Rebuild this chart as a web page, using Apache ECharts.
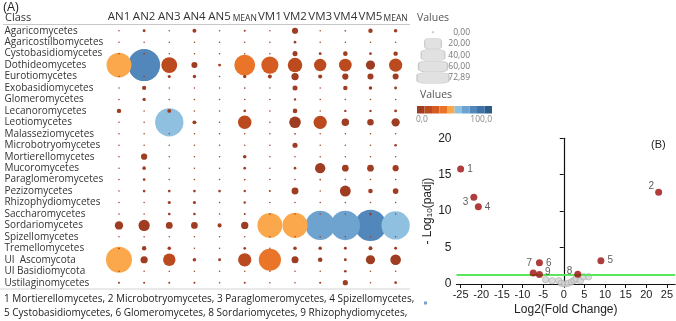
<!DOCTYPE html>
<html>
<head>
<meta charset="utf-8">
<script src="https://cdn.jsdelivr.net/npm/echarts@6.0.0/dist/echarts.min.js"></script>
<style>
  html, body { margin: 0; padding: 0; background: #fff; }
  #chart { width: 676px; height: 321px; }
</style>
</head>
<body>
<div id="chart"></div>
<script>
  // ---- panel A: relative abundance per class / sample ----
  var classes = ['Agaricomycetes', 'Agaricostilbomycetes', 'Cystobasidiomycetes', 'Dothideomycetes',
    'Eurotiomycetes', 'Exobasidiomycetes', 'Glomeromycetes', 'Lecanoromycetes', 'Leotiomycetes',
    'Malasseziomycetes', 'Microbotryomycetes', 'Mortierellomycetes', 'Mucoromycetes',
    'Paraglomeromycetes', 'Pezizomycetes', 'Rhizophydiomycetes', 'Saccharomycetes',
    'Sordariomycetes', 'Spizellomycetes', 'Tremellomycetes', 'UI  Ascomycota', 'UI Basidiomycota',
    'Ustilaginomycetes'];
  var samples = ['AN1', 'AN2', 'AN3', 'AN4', 'AN5', 'MEAN_AN', 'VM1', 'VM2', 'VM3', 'VM4', 'VM5', 'MEAN_VM'];
  // one row per class, columns in the order of samples
  var abundance = [
    [0, 0.6, 0, 1.1, 0, 0.3, 0, 2.7, 0, 0.2, 1.4, 0.9],
    [0, 0, 0, 0, 0, 0, 0, 0.5, 0, 0, 0, 0],
    [0, 0.2, 0, 0, 0, 0, 0, 1.8, 0.6, 1.5, 0.5, 1.4],
    [44, 72.89, 18, 2.6, 0.6, 31, 21, 15, 11, 11.5, 6, 12.5],
    [0, 0, 0.7, 0.8, 0, 0.8, 1.1, 3.8, 1.2, 2.8, 2.6, 2.6],
    [0, 1.3, 0, 0, 0, 0.2, 0, 1.8, 0, 1.4, 0.9, 0.6],
    [0, 0.8, 0, 0, 0, 0.1, 0, 0.4, 0, 0, 0, 0.1],
    [1.4, 0, 1.1, 0, 0, 0.5, 0, 1.5, 0, 0.4, 0.4, 0.6],
    [0, 0, 57, 1.1, 0, 13, 0, 9.5, 12.5, 4, 3, 4.9],
    [0, 0, 0, 0, 0, 0.1, 0, 0.2, 0, 0, 0, 0.1],
    [0, 0, 0, 0, 0, 0.1, 0, 1.9, 0, 0, 0, 0.5],
    [0, 2.8, 0, 0, 0, 0.9, 0, 0, 0, 0, 0, 0],
    [0, 0.9, 0, 0, 0, 0.5, 0, 0.5, 7.6, 3.2, 3.2, 2.7],
    [0, 0.5, 0, 0, 0, 0.2, 0, 0, 0.2, 0, 0, 0],
    [0, 0.5, 0.5, 0.5, 0.5, 0.4, 0.3, 3.4, 0, 8.5, 1.5, 2.3],
    [0, 0, 0.7, 0.7, 0, 0.4, 0, 0, 0, 0, 0, 0],
    [0, 0, 0.5, 0.5, 0, 0.3, 0, 0, 0, 0, 0.5, 0],
    [5, 9, 3.3, 3.2, 1.2, 3.8, 44, 45, 61, 62, 70, 57],
    [0, 0, 0, 0, 0, 0, 0, 0, 0, 0, 0, 0],
    [0.2, 1.4, 0.9, 0, 0, 0.5, 0, 0.9, 0.9, 0.6, 1.1, 0.6],
    [48, 3.7, 11, 0.9, 0.6, 12.5, 35, 3.5, 1.5, 0.6, 6, 8],
    [0, 0, 0, 0, 0, 0, 0, 0, 0, 0.5, 0, 0],
    [0.3, 0.3, 0.3, 0.3, 0, 0.3, 0, 0, 0.3, 1.9, 0, 0.5]
  ];
  var sizeLegend = [0, 20, 40, 60, 72.89];
  var colorRange = [0, 100];
  var footerLines = [
    '1 Mortierellomycetes, 2 Microbotryomycetes, 3 Paraglomeromycetes, 4 Spizellomycetes,',
    '5 Cystobasidiomycetes, 6 Glomeromycetes, 8 Sordariomycetes, 9 Rhizophydiomycetes,'
  ];

  // ---- panel B: volcano ----
  var sigLabels = ['1', '2', '3', '4', '5', '6', '7', '8', '9'];
  var sigX = [-25.0, 23.0, -21.8, -20.7, 9.0, -5.9, -7.4, 3.4, -5.9];
  var sigY = [15.8, 12.6, 11.9, 10.6, 3.2, 2.9, 1.5, 1.35, 1.3];
  var nsX = [-4.4, -2.8, -1.2, -0.6, 0.2, 1.1, 1.9, 2.5, 3.0, 4.0, 4.8, 6.0];
  var nsY = [0.6, 0.45, 0.45, 0.1, 0.0, 0.1, 0.3, 0.5, 0.7, 0.45, 1.0, 1.0];
  var padjCut = 1.3;

  // styles
  var stepColors = ['#9e3d22', '#bb4a1f', '#d45b21', '#ea7428', '#fba84c',
    '#8fc0e0', '#6ea3d0', '#5287bb', '#3f72a6', '#2b5c8a'];
  var labelPlace = ['r', 'lu', 'ld', 'r', 'r', 'r', 'tl', 'lu8', 'r9'];
  var fontA = '"Open Sans", sans-serif';
  var fontB = '"Liberation Sans", Arial, sans-serif';
  var maxSize = 32;

  function bubbleSize(v) {
    return Math.max(1.5, maxSize * Math.sqrt(v / sizeLegend[sizeLegend.length - 1]));
  }

  var cells = [];
  abundance.forEach(function (row, r) {
    row.forEach(function (v, c) { cells.push([c, r, v]); });
  });
  // large marks first so the small dots stay visible on top
  cells.sort(function (a, b) { return b[2] - a[2]; });

  function placement(p) {
    if (p === 'lu') return { position: 'left', distance: 1, offset: [0, -6] };
    if (p === 'ld') return { position: 'left', distance: 2, offset: [0, 5] };
    if (p === 'tl') return { position: 'top', distance: 1, offset: [-4, 0] };
    if (p === 'lu8') return { position: 'left', distance: 2, offset: [0, -3] };
    if (p === 'r9') return { position: 'right', distance: 2, offset: [0, -2] };
    return { position: 'right', distance: 3 };
  }

  var chart = echarts.init(document.getElementById('chart'));
  chart.setOption({
    animation: false,
    textStyle: { fontFamily: fontA },
    grid: [
      { left: 106.4, top: 25, width: 301.8, height: 263.4 },
      { left: 415, top: 26.6, width: 36, height: 57 },
      { left: 456.5, right: 0.8, top: 138.3, bottom: 37 }
    ],
    xAxis: [{
      gridIndex: 0, type: 'category', position: 'top', data: samples,
      axisLine: { show: false }, axisTick: { show: false }, splitLine: { show: false },
      axisLabel: {
        margin: 2, color: '#333', fontSize: 11.5, fontFamily: fontA, interval: 0,
        formatter: function (v) { return v.indexOf('MEAN') === 0 ? '{m|MEAN}' : v; },
        rich: { m: { fontSize: 8.5, color: '#333', fontFamily: fontA } }
      }
    }, {
      gridIndex: 1, type: 'value', min: -1, max: 1, show: false
    }, {
      gridIndex: 2, type: 'value', min: -26, max: 27, splitNumber: 10,
      name: 'Log2(Fold Change)', nameLocation: 'middle', nameGap: 20,
      nameTextStyle: { fontSize: 12, color: '#222', fontFamily: fontB },
      axisLine: { lineStyle: { color: '#111', width: 1.2 } },
      axisTick: { length: 4, lineStyle: { color: '#111' } },
      splitLine: { show: false },
      axisLabel: {
        color: '#222', fontSize: 11, fontFamily: fontB, margin: 5,
        showMinLabel: false, showMaxLabel: false,
        formatter: function (v) { return v % 5 === 0 ? String(v) : ''; }
      }
    }],
    yAxis: [{
      gridIndex: 0, type: 'category', inverse: true, data: classes,
      axisLine: { show: false }, axisTick: { show: false }, splitLine: { show: false },
      axisLabel: { align: 'left', margin: 102, color: '#333', fontSize: 10, fontFamily: fontA, interval: 0 }
    }, {
      gridIndex: 1, type: 'category', inverse: true, position: 'right',
      data: sizeLegend.map(function (v) { return v.toFixed(2).replace('.', ','); }),
      axisLine: { show: false }, axisTick: { show: false },
      axisLabel: { align: 'right', margin: 19, color: '#777', fontSize: 8.5, fontFamily: fontA, interval: 0 }
    }, {
      gridIndex: 2, type: 'value', min: 0, max: 20, interval: 5,
      name: '- Log{s|10}(padj)', nameLocation: 'middle', nameGap: 18, nameRotate: 90,
      nameTextStyle: { fontSize: 12, color: '#222', fontFamily: fontB,
        rich: { s: { fontSize: 8, color: '#222', fontFamily: fontB, padding: [6, 0, 0, 0] } } },
      axisLine: { show: true, lineStyle: { color: '#111', width: 1.2 } },
      axisTick: { show: true, length: 4, lineStyle: { color: '#111' } },
      splitLine: { show: false },
      axisLabel: { color: '#222', fontSize: 12, fontFamily: fontB, margin: 5 }
    }],
    visualMap: {
      type: 'piecewise', seriesIndex: 0, dimension: 2, orient: 'horizontal',
      left: 417, top: 106, padding: 0, itemWidth: 7.5, itemHeight: 7.5, itemGap: 0,
      itemSymbol: 'rect', showLabel: false, selectedMode: false, hoverLink: false,
      pieces: stepColors.map(function (c, i) {
        var step = (colorRange[1] - colorRange[0]) / stepColors.length;
        return { gte: colorRange[0] + i * step, lt: colorRange[0] + (i + 1) * step + (i === stepColors.length - 1 ? 0.001 : 0), color: c };
      })
    },
    graphic: [
      { type: 'text', left: 3, top: 2, style: { text: '(A)', font: '12px ' + fontB, fill: '#222' } },
      { type: 'text', left: 5, top: 12, style: { text: 'Class', font: '11px ' + fontA, fill: '#333' } },
      { type: 'line', shape: { x1: 3, y1: 24.5, x2: 410, y2: 24.5 }, style: { stroke: '#c8c8c8', lineWidth: 1 } },
      { type: 'line', shape: { x1: 0, y1: 289, x2: 410, y2: 289 }, style: { stroke: '#d4d4d4', lineWidth: 1 } },
      { type: 'text', left: 417, top: 13, style: { text: 'Values', font: '10.5px ' + fontA, fill: '#555' } },
      { type: 'text', left: 420, top: 90, style: { text: 'Values', font: '10.5px ' + fontA, fill: '#555' } },
      { type: 'text', left: 416, top: 115, style: { text: colorRange[0].toFixed(1).replace('.', ','), font: '8.5px ' + fontA, fill: '#888' } },
      { type: 'text', right: 184, top: 115, style: { text: colorRange[1].toFixed(1).replace('.', ','), font: '8.5px ' + fontA, fill: '#888' } },
      { type: 'text', left: 4, top: 294, style: { text: footerLines[0], font: '10px ' + fontA, fill: '#222' } },
      { type: 'text', left: 4, top: 308, style: { text: footerLines[1], font: '10px ' + fontA, fill: '#222' } },
      { type: 'rect', shape: { x: 424, y: 301.5, width: 3, height: 3 }, style: { fill: '#7d9fd0' } },
      { type: 'text', left: 651, top: 139, style: { text: '(B)', font: '11px ' + fontB, fill: '#222' } }
    ],
    series: [{
      type: 'scatter', xAxisIndex: 0, yAxisIndex: 0, data: cells,
      symbolSize: function (val) { return bubbleSize(val[2]); },
      itemStyle: { opacity: 1 }, silent: true
    }, {
      type: 'scatter', xAxisIndex: 1, yAxisIndex: 1, silent: true,
      data: sizeLegend.map(function (v, i) { return [0, i, v]; }),
      symbol: 'roundRect',
      symbolSize: function (val) {
        return val[2] === 0 ? [1.5, 1.5] : [bubbleSize(val[2]), 10.5];
      },
      itemStyle: { color: '#dadada', borderColor: '#bdbdbd', borderWidth: 0.8 }
    }, {
      type: 'scatter', xAxisIndex: 2, yAxisIndex: 2, z: 4, silent: true,
      data: nsX.map(function (x, i) { return [x, nsY[i]]; }),
      symbolSize: 6.5,
      itemStyle: { color: '#d3d3d3', borderColor: '#9a9a9a', borderWidth: 0.6 },
      markLine: {
        silent: true, symbol: ['none', 'none'], label: { show: false },
        lineStyle: { color: '#5ce65c', width: 2, type: 'solid' },
        data: [{ yAxis: padjCut }]
      }
    }, {
      type: 'scatter', xAxisIndex: 2, yAxisIndex: 2, z: 6, silent: true,
      symbolSize: 7,
      itemStyle: { color: '#9c0c0c' },
      data: sigX.map(function (x, i) {
        var lab = placement(labelPlace[i]);
        lab.show = true;
        lab.formatter = sigLabels[i];
        lab.fontSize = 10;
        lab.color = '#333';
        lab.fontFamily = fontB;
        return { value: [x, sigY[i]], label: lab };
      })
    }]
  });
</script>
</body>
</html>
